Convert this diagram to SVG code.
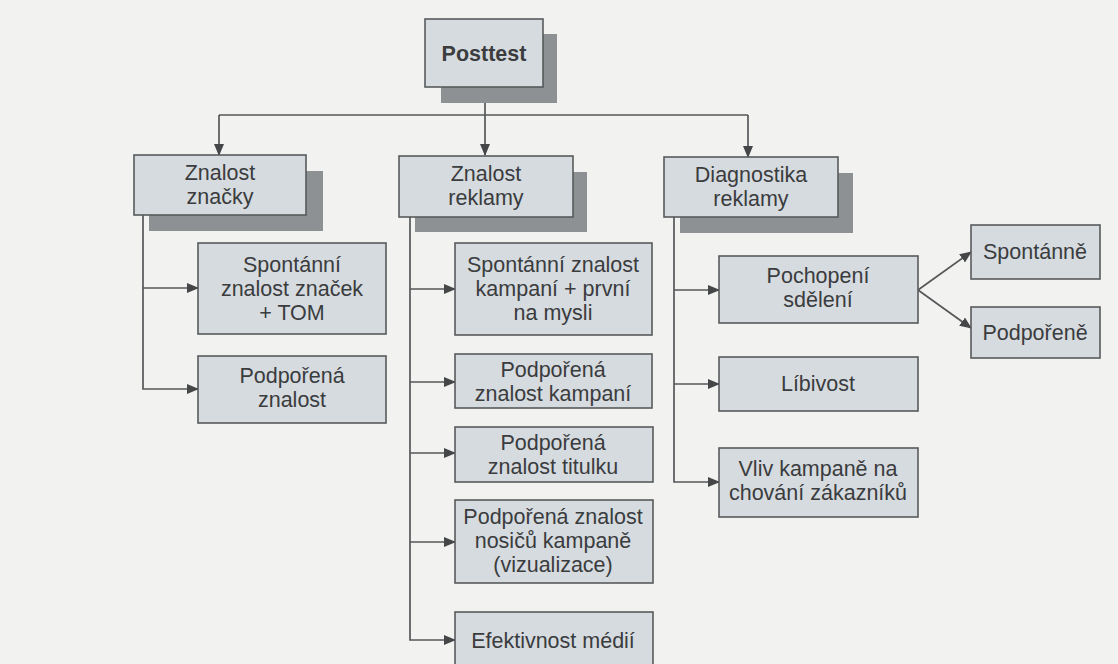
<svg xmlns="http://www.w3.org/2000/svg" width="1118" height="664" viewBox="0 0 1118 664">
<style>
.bg{fill:#f2f2f0}
.box{fill:#d6dbdf;stroke:#585a5c;stroke-width:1.6}
.sh{fill:#8d9193}
.t{font-family:"Liberation Sans",Arial,sans-serif;font-size:21.5px;fill:#3a3c3e;text-anchor:middle}
.b{font-weight:bold}
.c{fill:none;stroke:#555759;stroke-width:1.7}
</style>
<defs>
<marker id="ar" viewBox="0 0 12 10" refX="11" refY="5" markerWidth="12" markerHeight="10" markerUnits="userSpaceOnUse" orient="auto">
<path d="M0,0 L12,5 L0,10 z" fill="#444648"/>
</marker>
</defs>
<rect class="bg" x="0" y="0" width="1118" height="664"/>

<g id="connectors">
<path class="c" d="M485,87 V155" marker-end="url(#ar)"/>
<path class="c" d="M219,115 H748"/>
<path class="c" d="M219,115 V155" marker-end="url(#ar)"/>
<path class="c" d="M748,115 V157" marker-end="url(#ar)"/>
<path class="c" d="M143,215 V389 H198" marker-end="url(#ar)"/>
<path class="c" d="M143,288 H198" marker-end="url(#ar)"/>
<path class="c" d="M410,217 V640 H455" marker-end="url(#ar)"/>
<path class="c" d="M410,289 H455" marker-end="url(#ar)"/>
<path class="c" d="M410,382 H455" marker-end="url(#ar)"/>
<path class="c" d="M410,453 H455" marker-end="url(#ar)"/>
<path class="c" d="M410,542 H455" marker-end="url(#ar)"/>
<path class="c" d="M674,217 V482 H719" marker-end="url(#ar)"/>
<path class="c" d="M674,290 H719" marker-end="url(#ar)"/>
<path class="c" d="M674,384 H719" marker-end="url(#ar)"/>
<path class="c" d="M918,290 L971,252" marker-end="url(#ar)"/>
<path class="c" d="M918,290 L971,328" marker-end="url(#ar)"/>
</g>

<g id="posttest">
<rect class="sh" x="441" y="34" width="116" height="69"/>
<rect class="box" x="425" y="19" width="118" height="68"/>
<text class="t b" x="484" y="61">Posttest</text>
</g>
<g id="znalost-znacky">
<rect class="sh" x="149" y="171" width="174" height="60"/>
<rect class="box" x="134" y="155" width="172" height="60"/>
<text class="t" x="220" y="180">Znalost</text>
<text class="t" x="220" y="204">značky</text>
</g>
<g id="znalost-reklamy">
<rect class="sh" x="415" y="172" width="172" height="60"/>
<rect class="box" x="399" y="156" width="174" height="61"/>
<text class="t" x="486" y="181">Znalost</text>
<text class="t" x="486" y="205">reklamy</text>
</g>
<g id="diagnostika-reklamy">
<rect class="sh" x="680" y="173" width="173" height="60"/>
<rect class="box" x="664" y="157" width="174" height="60"/>
<text class="t" x="751" y="182">Diagnostika</text>
<text class="t" x="751" y="206">reklamy</text>
</g>

<g id="spontanni-znalost-znacek">
<rect class="box" x="198" y="243" width="188" height="91"/>
<text class="t" x="292" y="272">Spontánní</text>
<text class="t" x="292" y="296">znalost značek</text>
<text class="t" x="292" y="320">+ TOM</text>
</g>
<g id="podporena-znalost">
<rect class="box" x="198" y="356" width="188" height="67"/>
<text class="t" x="292" y="383">Podpořená</text>
<text class="t" x="292" y="407">znalost</text>
</g>

<g id="spontanni-znalost-kampani">
<rect class="box" x="455" y="243" width="197" height="92"/>
<text class="t" x="553" y="272">Spontánní znalost</text>
<text class="t" x="553" y="296">kampaní + první</text>
<text class="t" x="553" y="320">na mysli</text>
</g>
<g id="podporena-znalost-kampani">
<rect class="box" x="455" y="354" width="197" height="54"/>
<text class="t" x="553" y="377">Podpořená</text>
<text class="t" x="553" y="401">znalost kampaní</text>
</g>
<g id="podporena-znalost-titulku">
<rect class="box" x="455" y="427" width="198" height="55"/>
<text class="t" x="553" y="450">Podpořená</text>
<text class="t" x="553" y="474">znalost titulku</text>
</g>
<g id="podporena-znalost-nosicu">
<rect class="box" x="455" y="500" width="198" height="83"/>
<text class="t" x="553" y="524">Podpořená znalost</text>
<text class="t" x="553" y="548">nosičů kampaně</text>
<text class="t" x="553" y="572">(vizualizace)</text>
</g>
<g id="efektivnost-medii">
<rect class="box" x="455" y="612" width="198" height="70"/>
<text class="t" x="553" y="648">Efektivnost médií</text>
</g>

<g id="pochopeni-sdeleni">
<rect class="box" x="719" y="256" width="199" height="67"/>
<text class="t" x="818" y="283">Pochopení</text>
<text class="t" x="818" y="307">sdělení</text>
</g>
<g id="libivost">
<rect class="box" x="719" y="357" width="199" height="54"/>
<text class="t" x="818" y="391">Líbivost</text>
</g>
<g id="vliv-kampane">
<rect class="box" x="719" y="448" width="199" height="69"/>
<text class="t" x="818" y="476">Vliv kampaně na</text>
<text class="t" x="818" y="500">chování zákazníků</text>
</g>
<g id="spontanne">
<rect class="box" x="971" y="225" width="129" height="54"/>
<text class="t" x="1035" y="259">Spontánně</text>
</g>
<g id="podporene">
<rect class="box" x="971" y="307" width="129" height="51"/>
<text class="t" x="1035" y="340">Podpořeně</text>
</g>
</svg>
